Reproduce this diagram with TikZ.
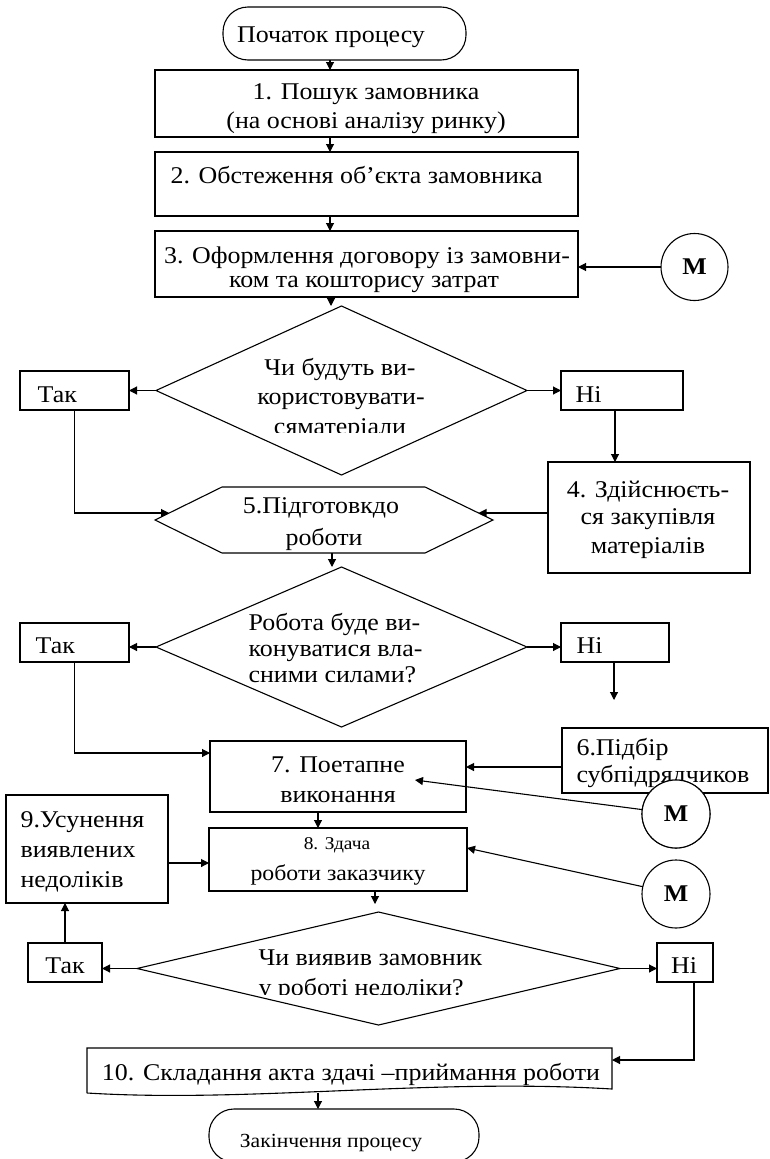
\documentclass[tikz,border=0pt]{standalone}
\usepackage{fontspec}
\setmainfont{Liberation Serif}[FakeStretch=1.08]
\usetikzlibrary{arrows.meta,shapes.geometric}

\begin{document}
\begin{tikzpicture}[x=1pt,y=-1pt,
  line width=1.1pt,
  arr/.style={-{Triangle[length=8pt,width=8pt]}},
  blk/.style={draw, rectangle, inner sep=0pt, outer sep=0pt, fill=white},
  term/.style={draw, rectangle, rounded corners=25pt, inner sep=0pt, outer sep=0pt},
  dia/.style={draw, diamond, inner sep=0pt, outer sep=0pt},
  mcirc/.style={draw, circle, minimum size=67pt, inner sep=0pt, outer sep=0pt,
    fill=white, font=\bfseries\fontsize{24}{24}\selectfont},
  txt/.style={inner sep=0pt, anchor=base, font=\fontsize{24}{29}\selectfont},
  ltxt/.style={txt, anchor=base west},
]
\useasboundingbox (0,0) rectangle (770,1159);

% ---------- shapes ----------
\node[term, minimum width=243pt, minimum height=53pt] (start) at (344.5,33.5) {};
\node[blk, minimum width=423pt, minimum height=67pt] (b1) at (366.5,103.5) {};
\node[blk, minimum width=423pt, minimum height=64pt] (b2) at (366.5,184) {};
\node[blk, minimum width=423pt, minimum height=66pt] (b3) at (366.5,264) {};
\node[mcirc] (m1) at (694.5,267) {М};

\node[dia, minimum width=371pt, minimum height=169pt] (d1) at (341.5,390.5) {};
\node[blk, minimum width=109pt, minimum height=39pt] (tak1) at (74.5,390.5) {};
\node[blk, minimum width=122pt, minimum height=39pt] (ni1) at (622,390.5) {};
\node[blk, minimum width=202pt, minimum height=111pt] (b4) at (649,517.5) {};

% preparation step (hexagon)
\draw[fill=white] (155,520) -- (222,487) -- (425,487) -- (493,520)
  -- (425,553) -- (222,553) -- cycle;
\coordinate (hexL) at (169,513);
\coordinate (hexR) at (478.5,513);
\coordinate (hexB) at (332,553);

\node[dia, minimum width=371pt, minimum height=160pt] (d2) at (341.5,647) {};
\node[blk, minimum width=109pt, minimum height=39pt] (tak2) at (74.5,642.5) {};
\node[blk, minimum width=108pt, minimum height=39pt] (ni2) at (615,642.5) {};

\node[blk, minimum width=256pt, minimum height=71pt] (b7) at (338,776.5) {};
\node[blk, minimum width=206pt, minimum height=65pt] (b6) at (665,760.5) {};
\node[blk, minimum width=258pt, minimum height=63pt] (b8) at (338,859.5) {};
\node[blk, minimum width=162pt, minimum height=108pt] (b9) at (87,849) {};
\node[mcirc, minimum size=68pt] (m2) at (676,814) {М};
\node[mcirc, minimum size=68pt] (m3) at (676,894) {М};

\node[dia, minimum width=483pt, minimum height=113pt] (d3) at (378.5,968.5) {};
\node[blk, minimum width=74pt, minimum height=39pt] (tak3) at (65,962.5) {};
\node[blk, minimum width=56pt, minimum height=39pt] (ni3) at (685,962.5) {};

% closing step, document outline with a wavy lower edge
\node[inner sep=0pt, outer sep=0pt, minimum width=525pt, minimum height=45pt] (b10) at (349.5,1070.5) {};
\draw (b10.south west) -- (b10.north west) -- (b10.north east) -- (612,1089)
  .. controls (430,1078) and (250,1103) .. (b10.south west);

\node[term, minimum width=270pt, minimum height=53pt] (end) at (344,1135.5) {};

% ---------- texts ----------
\node[txt] (ts) at (331,42) {Початок процесу};
\node[txt] (t1a) at (366,99) {1. Пошук замовника};
\node[txt] (t1b) at (366,128) {(на основі аналізу ринку)};
\node[ltxt] (t2) at (170,183) {2. Обстеження об’єкта замовника};
\node[txt] (t3a) at (367,263) {3. Оформлення договору із замовни-};
\node[txt] (t3b) at (364,287) {ком та кошторису затрат};

\node[txt] (q1a) at (340,375) {Чи будуть ви-};
\node[txt] (q1b) at (341,404) {користовувати-};
\begin{scope}
  \clip (200,400) rectangle (480,432);
  \node[txt] (q1c) at (340,434) {сяматеріали};
\end{scope}
\node[ltxt] (y1) at (37,402) {Так};
\node[ltxt] (n1) at (575,402) {Ні};

\node[txt] (t4a) at (648,497) {4. Здійснюєть-};
\node[txt] (t4b) at (648,524) {ся закупівля};
\node[txt] (t4c) at (648,553) {матеріалів};

\node[txt] (t5a) at (321,513) {5.Підготовкдо};
\node[txt] (t5b) at (324,545) {роботи};

\node[ltxt] (q2a) at (248,630) {Робота буде ви-};
\node[ltxt] (q2b) at (248,656) {конуватися вла-};
\node[ltxt] (q2c) at (248,682) {сними силами?};
\node[ltxt] (y2) at (35,653) {Так};
\node[ltxt] (n2) at (576,653) {Ні};

\node[ltxt] (t6a) at (576,755) {6.Підбір};
\node[ltxt] (t6b) at (576,782) {субпідрядчиков};
% the circle sits over the lower right of step 6
\node[mcirc, minimum size=68pt] at (m2) {М};

\node[txt] (t7a) at (338,772) {7. Поетапне};
\node[txt] (t7b) at (338,802) {виконання};

\node[txt, font=\fontsize{18}{22}\selectfont] (t8a) at (337,849) {8. Здача};
\node[txt, font=\fontsize{22}{26}\selectfont] (t8b) at (338,880) {роботи заказчику};

\node[ltxt] (t9a) at (20,827) {9.Усунення};
\node[ltxt] (t9b) at (20,857) {виявлених};
\node[ltxt] (t9c) at (20,887) {недоліків};

\node[ltxt] (q3a) at (258,965) {Чи виявив замовник};
\begin{scope}
  \clip (200,970) rectangle (520,994);
  \node[ltxt] (q3b) at (258,995) {у роботі недоліки?};
\end{scope}
\node[txt] (y3) at (65,973) {Так};
\node[txt] (n3) at (684,973) {Ні};

\node[txt] (t10) at (351,1080) {10. Складання акта здачі –приймання роботи};
\node[txt, font=\fontsize{20}{24}\selectfont] (te) at (331,1147) {Закінчення процесу};

% ---------- connectors ----------
\coordinate (cx) at (330,0);
\draw[arr] (start.south -| cx) -- (b1.north -| cx);
\draw[arr] (b1.south -| cx) -- (b2.north -| cx);
\draw[arr] (b2.south -| cx) -- (b3.north -| cx);
\coordinate (cx1) at (331,0);
\draw[arr] (b3.south -| cx1) -- (cx1 |- d1.north);
\draw[arr] (m1.west) -- (m1.west -| b3.east);

\draw[arr] (d1.west) -- (d1.west -| tak1.east);
\draw[arr] (d1.east) -- (d1.east -| ni1.west);
\draw[arr] (tak1.south) |- (hexL);
\coordinate (cn1) at (615,0);
\draw[arr] (ni1.south -| cn1) -- (b4.north -| cn1);
\draw[arr] (b4.west |- hexR) -- (hexR);
\draw[arr] (hexB) -- (hexB |- d2.north);

\draw[arr] (d2.west) -- (d2.west -| tak2.east);
\draw[arr] (d2.east) -- (d2.east -| ni2.west);
\coordinate (n2end) at (614,700);
\draw[arr] (ni2.south -| n2end) -- (n2end);
\coordinate (b7in) at (210,753);
\draw[arr] (tak2.south) |- (b7in);
\coordinate (b6out) at (562,767);
\draw[arr] (b6out) -- (b6out -| b7.east);
\coordinate (p7) at (415,780);
\draw[arr] (m2) -- (p7);

\coordinate (cx2) at (318,0);
\draw[arr] (b7.south -| cx2) -- (b8.north -| cx2);
\coordinate (b9out) at (168,863);
\draw[arr] (b9out) -- (b9out -| b8.west);
\coordinate (p8) at (467,848);
\draw[arr] (m3) -- (p8);
\coordinate (cx3) at (375,0);
\draw[arr, shorten >=8pt] (b8.south -| cx3) -- (cx3 |- d3.north);

\draw[arr] (d3.west) -- (d3.west -| tak3.east);
\draw[arr] (d3.east) -- (d3.east -| ni3.west);
\draw[arr] (tak3.north) -- (tak3.north |- b9.south);
\coordinate (n3turn) at (694,1060);
\draw[arr] (ni3.south -| n3turn) -- (n3turn) -- (n3turn -| b10.east);
\draw[arr] (b10.south -| cx2) -- (end.north -| cx2);
\end{tikzpicture}
\end{document}
